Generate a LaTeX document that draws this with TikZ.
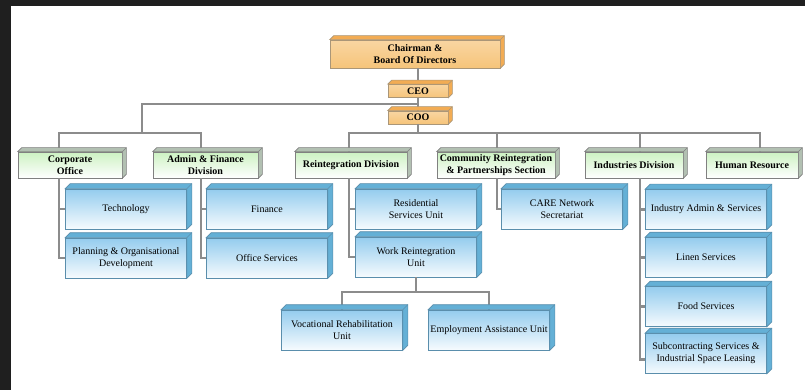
\documentclass[tikz,border=0pt]{standalone}
\usepackage{fontspec}
\setmainfont{Liberation Serif}
\definecolor{linkgray}{RGB}{140,140,140}
\definecolor{orgtop}{RGB}{255,247,234}
\definecolor{orgbot}{RGB}{246,196,122}
\definecolor{orgside}{RGB}{242,172,84}
\definecolor{orgedge}{RGB}{170,150,120}
\definecolor{grntop}{RGB}{204,242,194}
\definecolor{grnside}{RGB}{178,192,178}
\definecolor{blutop}{RGB}{148,204,238}
\definecolor{blubot}{RGB}{246,251,254}
\definecolor{bluside}{RGB}{100,176,214}
\definecolor{bluedge}{RGB}{90,142,172}

\newcommand\drawfaces[3]{%
  \filldraw[#3] (#1.north west) -- ++(#2,#2) -- ([shift={(#2,#2)}]#1.north east)
    -- ([shift={(#2,#2)}]#1.south east) -- (#1.south east) -- (#1.north east) -- cycle;
  \draw[#3] (#1.north east) -- ++(#2,#2);}

\begin{document}
\begin{tikzpicture}[x=1pt,y=-1pt,
    box/.style={draw, line width=0.6pt, inner sep=1pt, align=center, font=\fontsize{10}{12}\selectfont},
    chief/.style={box, draw=orgedge, top color=orgbot!70, middle color=orgtop, bottom color=orgbot, font=\fontsize{10}{12}\selectfont\bfseries},
    division/.style={box, draw=gray, top color=grntop, bottom color=white, minimum height=26pt, font=\fontsize{10}{12}\selectfont\bfseries},
    unit/.style={box, draw=bluedge, top color=blutop, bottom color=blubot, minimum width=121pt, minimum height=40pt},
    link/.style={draw=linkgray, line width=2.2pt},
    orgface/.style={fill=orgside, draw=orgedge, line width=0.6pt},
    grnface/.style={fill=grnside, draw=gray, line width=0.6pt},
    bluface/.style={fill=bluside, draw=bluedge, line width=0.6pt}]
  \fill[black!88] (0,0) rectangle (805,390);
  \fill[white] (11,6) rectangle (805,390);
  \useasboundingbox (0,0) rectangle (805,390);

  \node[chief, minimum width=170pt, minimum height=28pt] (chair) at (415,54) {Chairman \&\\Board Of Directors};
  \node[chief, minimum width=60pt, minimum height=13pt, inner sep=0pt] (ceo) at (418,91) {CEO};
  \node[chief, minimum width=60pt, minimum height=13pt, inner sep=0pt] (coo) at (418,117.5) {COO};

  \node[division, minimum width=104pt] (corp) at (70,165) {Corporate\\Office};
  \node[division, minimum width=105pt] (admin) at (205.5,165) {Admin \& Finance\\Division};
  \node[division, minimum width=112pt] (reint) at (351,165) {Reintegration Division};
  \node[division, minimum width=118pt] (comm) at (496,165) {Community Reintegration\\\& Partnerships Section};
  \node[division, minimum width=98pt] (ind) at (634,165) {Industries Division};
  \node[division, minimum width=92pt] (hr) at (752,165) {Human Resource};

  \node[unit] (tech) at (126,209) {Technology};
  \node[unit] (plan) at (126,258) {Planning \& Organisational\\Development};
  \node[unit] (fin) at (267,209) {Finance};
  \node[unit] (off) at (267,258) {Office Services};
  \node[unit] (res) at (416,209) {Residential\\Services Unit};
  \node[unit] (work) at (416,257) {Work Reintegration\\Unit};
  \node[unit] (voc) at (342,330) {Vocational Rehabilitation\\Unit};
  \node[unit] (emp) at (489,330) {Employment Assistance Unit};
  \node[unit] (care) at (562,209) {CARE Network\\Secretariat};
  \node[unit] (ia) at (706,209.5) {Industry Admin \& Services};
  \node[unit] (lin) at (706,257.5) {Linen Services};
  \node[unit] (food) at (706,306.5) {Food Services};
  \node[unit] (sub) at (706,353.5) {Subcontracting Services \&\\Industrial Space Leasing};

  \coordinate (split) at (418,104);
  \coordinate (lbus) at (142,133);
  \coordinate (rbus) at (418,133);
  \coordinate (vbus) at ([yshift=-15pt]work.south);
  \coordinate (ct) at ([xshift=-6pt]tech.west);
  \coordinate (at) at ([xshift=-5pt]fin.west);
  \coordinate (rt) at ([xshift=-6pt]res.west);
  \coordinate (cmt) at ([xshift=-4pt]care.west);
  \coordinate (it) at ([xshift=-5pt]ia.west);
  \coordinate (hrt) at ([xshift=8pt]hr.north);

  \draw[link] (ceo.north |- chair.south) -- (ceo.north);
  \draw[link] (ceo.south) -- (coo.north);
  \draw[link] (split) -| (lbus);
  \draw[link] (coo.south) -- (rbus);
  \draw[link] (ct |- corp.north) |- (lbus) -| (at |- admin.north);
  \draw[link] (rt |- reint.north) |- (rbus) -| (hrt);
  \draw[link] (cmt |- comm.north) -- (cmt |- rbus);
  \draw[link] (it |- ind.north) -- (it |- rbus);

  \draw[link] (ct |- corp.south) |- (plan.west);
  \draw[link] (ct) -- (tech.west);
  \draw[link] (at |- admin.south) |- (off.west);
  \draw[link] (at) -- (fin.west);
  \draw[link] (rt |- reint.south) |- (work.west);
  \draw[link] (rt) -- (res.west);
  \draw[link] (cmt |- comm.south) |- (care.west);
  \draw[link] (it |- ind.south) |- ([yshift=-6pt]sub.west);
  \draw[link] (it) -- (ia.west);
  \draw[link] (it |- lin.west) -- (lin.west);
  \draw[link] (it |- food.west) -- (food.west);
  \draw[link] (work.south) -- (vbus);
  \draw[link] (voc.north) |- (vbus) -| (emp.north);

  \foreach \n in {chair,ceo,coo} \drawfaces{\n}{4pt}{orgface};
  \foreach \n in {corp,admin,reint,comm,ind,hr} \drawfaces{\n}{4pt}{grnface};
  \foreach \n in {tech,plan,fin,off,res,work,voc,emp,care,ia,lin,food,sub} \drawfaces{\n}{5pt}{bluface};
\end{tikzpicture}
\end{document}
